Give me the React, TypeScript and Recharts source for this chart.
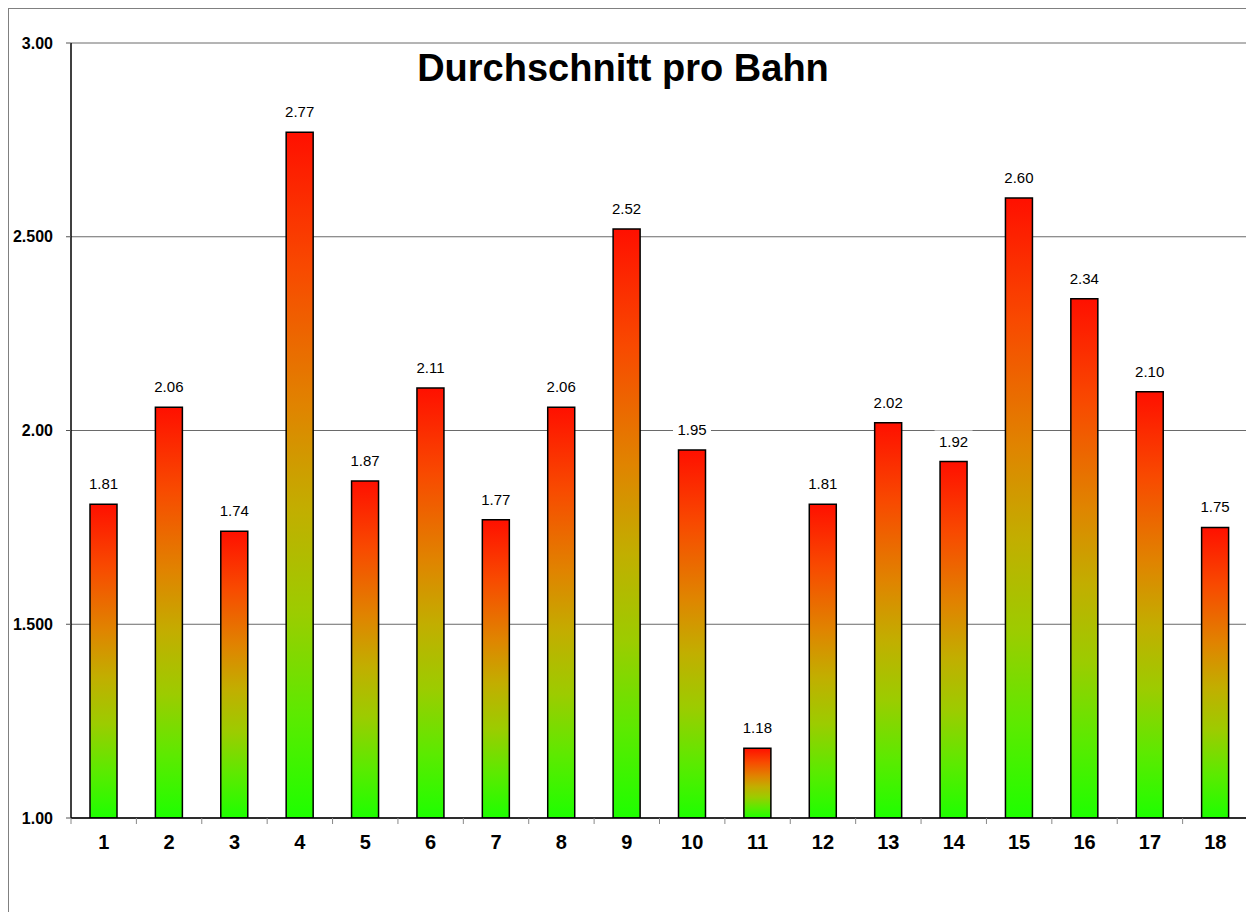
import { BarChart, Bar, XAxis, YAxis, CartesianGrid, LabelList } from 'recharts'

const lanes = ['1', '2', '3', '4', '5', '6', '7', '8', '9', '10', '11', '12', '13', '14', '15', '16', '17', '18']
const averages = [1.81, 2.06, 1.74, 2.77, 1.87, 2.11, 1.77, 2.06, 2.52, 1.95, 1.18, 1.81, 2.02, 1.92, 2.6, 2.34, 2.1, 1.75]
const yTicks = [1, 1.5, 2, 2.5, 3]
const yTickLabels = ['1.00', '1.500', '2.00', '2.500', '3.00']
const title = 'Durchschnitt pro Bahn'

const FONT = '"Liberation Sans", Arial, Helvetica, sans-serif'

const chartData = lanes.map((lane, i) => ({ lane, value: averages[i] }))

// category tick: label in the middle, small tick marks on the category borders
function LaneTick(props: any) {
  const { x, y, payload, index } = props
  const half = payload && payload.offset ? payload.offset : 32.7
  const last = index === lanes.length - 1
  return (
    <g>
      <line x1={x - half} x2={x - half} y1={y - 8} y2={y - 2} stroke="#888" strokeWidth={1} />
      {last && <line x1={x + half} x2={x + half} y1={y - 8} y2={y - 2} stroke="#888" strokeWidth={1} />}
      <text x={x} y={y + 23} textAnchor="middle" fontFamily={FONT} fontSize={20} fontWeight="bold" fill="#000">
        {payload.value}
      </text>
    </g>
  )
}

function ValueLabel(props: any) {
  const { x, y, width, value } = props
  const cx = x + width / 2
  const text = Number(value).toFixed(2)
  return (
    <g>
      <rect x={cx - 19} y={y - 31} width={38} height={19} fill="#fff" />
      <text x={cx} y={y - 15} textAnchor="middle" fontFamily={FONT} fontSize={15} fill="#000">
        {text}
      </text>
    </g>
  )
}

export default function App() {
  return (
    <div
      style={{
        position: 'relative',
        width: 1246,
        height: 904,
        borderTop: '1px solid #808080',
        borderLeft: '1px solid #808080',
        background: '#fff',
        fontFamily: FONT,
      }}
    >
      <BarChart
        width={1245}
        height={903}
        data={chartData}
        margin={{ top: 34, right: 6, left: 0, bottom: 0 }}
        barSize={27}
      >
        <defs>
          <linearGradient id="barGrad" x1="0" y1="0" x2="0" y2="1">
            <stop offset="0%" stopColor="#ff1000" />
            <stop offset="20%" stopColor="#f84a00" />
            <stop offset="40%" stopColor="#e08400" />
            <stop offset="55%" stopColor="#c2ae00" />
            <stop offset="70%" stopColor="#9ccc00" />
            <stop offset="85%" stopColor="#5cea00" />
            <stop offset="100%" stopColor="#1eff00" />
          </linearGradient>
        </defs>
        <CartesianGrid vertical={false} stroke="#6a6a6a" strokeWidth={1} />
        <XAxis
          dataKey="lane"
          height={94}
          axisLine={{ stroke: '#000', strokeWidth: 1.5 }}
          tickLine={false}
          interval={0}
          tick={<LaneTick />}
        />
        <YAxis
          width={62}
          domain={[1, 3]}
          ticks={yTicks}
          allowDataOverflow
          axisLine={{ stroke: '#000', strokeWidth: 1.5 }}
          tickLine={{ stroke: '#555' }}
          tickSize={5}
          tickMargin={13}
          tickFormatter={(v: number) => yTickLabels[yTicks.indexOf(v)] ?? String(v)}
          tick={{ fill: '#000', fontSize: 16, fontWeight: 'bold', fontFamily: FONT }}
        />
        <Bar
          dataKey="value"
          fill="url(#barGrad)"
          stroke="#000"
          strokeWidth={1.5}
          isAnimationActive={false}
        >
          <LabelList dataKey="value" content={<ValueLabel />} />
        </Bar>
        <text x={614} y={72} textAnchor="middle" fontFamily={FONT} fontSize={38} fontWeight="bold" fill="#000">
          {title}
        </text>
      </BarChart>
    </div>
  )
}
